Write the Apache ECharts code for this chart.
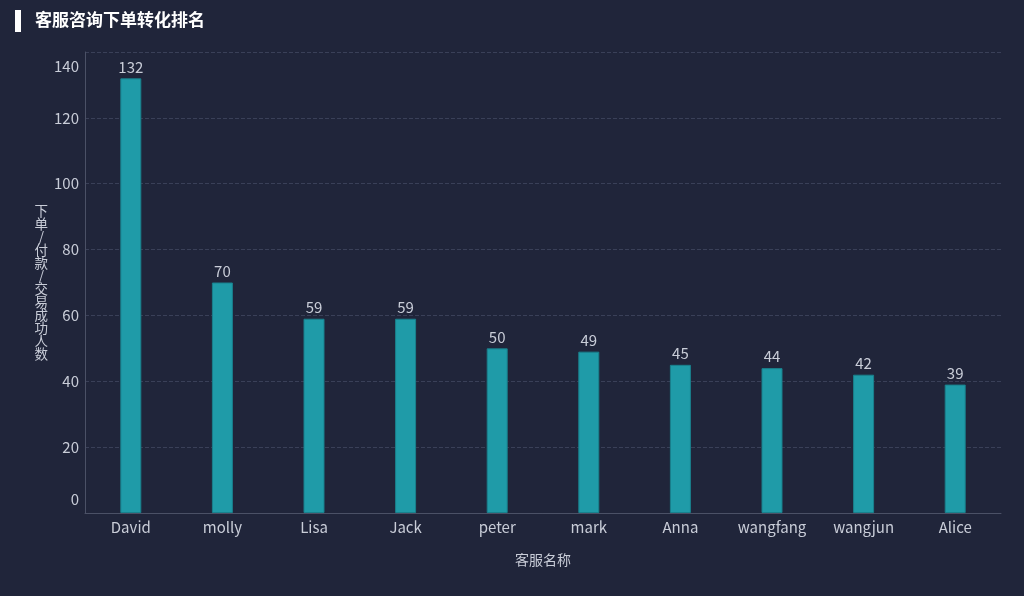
<!DOCTYPE html>
<html><head><meta charset="utf-8">
<script src="https://cdn.jsdelivr.net/npm/echarts@6/dist/echarts.min.js"></script>
<style>html,body{margin:0;padding:0;background:#20253a;}#c{width:1024px;height:596px;}</style>
</head><body><div id="c"></div>
<script>
const titleText = '客服咨询下单转化排名';
const categories = ['David','molly','Lisa','Jack','peter','mark','Anna','wangfang','wangjun','Alice'];
const values = [132,70,59,59,50,49,45,44,42,39];
const yAxisName = '下单/付款/交易成功人数';
const xAxisName = '客服名称';

const chart = echarts.init(document.getElementById('c'), null, {renderer:'canvas'});
const txt = '#c9cdd8';
const ff = '"Noto Sans CJK SC","Noto Sans",sans-serif';
chart.setOption({
  backgroundColor:'#20253a',
  textStyle:{fontFamily:ff},
  graphic:[
    {type:'rect', left:15, top:10, shape:{width:6,height:22}, style:{fill:'#ffffff'}},
    {type:'text', left:35, top:11, style:{text:titleText, fill:'#ffffff', font:'bold 17px "Noto Sans CJK SC", sans-serif'}}
  ],
  grid:{left:85, right:23, top:52, bottom:83, containLabel:false, outerBoundsMode:'none'},
  xAxis:{
    type:'category', data:categories,
    name:xAxisName, nameLocation:'middle', nameGap:40,
    nameTextStyle:{color:txt, fontSize:14, fontFamily:ff},
    axisLine:{lineStyle:{color:'#4b5166'}},
    axisTick:{show:false},
    axisLabel:{color:txt, fontSize:15, margin:7, interval:0, fontFamily:ff}
  },
  yAxis:{
    type:'value', min:0, max:140, interval:20,
    name:yAxisName.split('').join('\n'), nameLocation:'middle', nameGap:37, nameRotate:0,
    nameTextStyle:{color:txt, fontSize:13.5, lineHeight:13, align:'center', fontFamily:ff},
    axisLine:{show:true, lineStyle:{color:'#4b5166'}},
    axisTick:{show:false},
    axisLabel:{color:txt, fontSize:15, margin:6, lineHeight:28, verticalAlignMinLabel:'bottom', verticalAlignMaxLabel:'top', fontFamily:ff},
    splitLine:{lineStyle:{color:'#3a4058', type:'dashed'}}
  },
  series:[{
    type:'bar', data:values, barWidth:21,
    itemStyle:{color:'#1f9ba8', borderColor:'#19808c', borderWidth:1},
    label:{show:true, position:'top', color:txt, fontSize:15, distance:4, fontFamily:ff}
  }]
});
</script></body></html>
